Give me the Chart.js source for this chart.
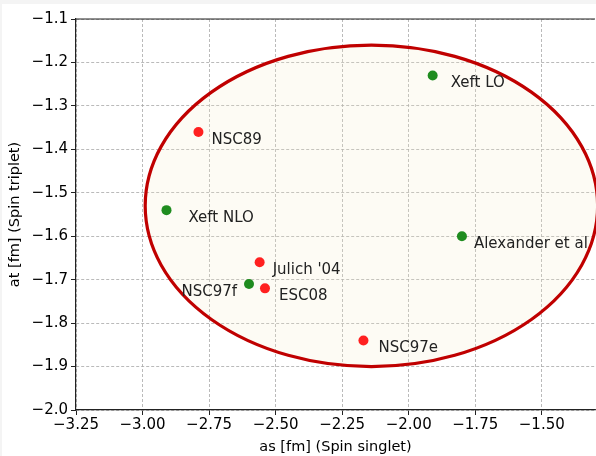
<!DOCTYPE html>
<html>
<head>
<meta charset="utf-8">
<script src="https://cdn.jsdelivr.net/npm/chart.js@4"></script>
<style>
    html, body { margin: 0; padding: 0; background: #f4f4f4; overflow: hidden; }
    #wrap { position: absolute; left: 2px; top: 4px; background: #fff; }
</style>
</head>
<body>
<div id="wrap"><canvas id="chart" width="598" height="452"></canvas></div>
<script>
// values
const names = ["Xeft LO", "NSC89", "Xeft NLO", "Julich '04", "NSC97f", "ESC08", "Alexander et al", "NSC97e"];
const asValues = [-1.91, -2.79, -2.91, -2.56, -2.60, -2.54, -1.80, -2.17];
const atValues = [-1.23, -1.36, -1.54, -1.66, -1.71, -1.72, -1.60, -1.84];
const kinds = ["eft", "model", "eft", "model", "eft", "model", "eft", "model"];

// ellipse: centre and half widths in data units
const ellipseCenter = [-2.14, -1.53];
const ellipseRadii = [0.85, 0.37];

const xTicks = [-3.25, -3.00, -2.75, -2.50, -2.25, -2.00, -1.75, -1.50];
const yTicks = [-2.0, -1.9, -1.8, -1.7, -1.6, -1.5, -1.4, -1.3, -1.2, -1.1];

// label placement (px from the dot)
const labelDx = [18, 13, 22, 13, -12, 14, 12, 15];

const kindColors = { eft: "#1f8c1f", model: "#ff2020" };

function pointsOf(kind) {
    const out = [];
    names.forEach((n, i) => {
        if (kinds[i] === kind) out.push({ x: asValues[i], y: atValues[i], name: n, dx: labelDx[i] });
    });
    return out;
}

const ellipsePlugin = {
    id: "ellipse",
    beforeDatasetsDraw(chart) {
        const { ctx, scales: { x, y } } = chart;
        const cx = x.getPixelForValue(ellipseCenter[0]);
        const cy = y.getPixelForValue(ellipseCenter[1]);
        const rx = Math.abs(x.getPixelForValue(ellipseCenter[0] + ellipseRadii[0]) - cx);
        const ry = Math.abs(y.getPixelForValue(ellipseCenter[1] + ellipseRadii[1]) - cy);
        ctx.save();
        ctx.beginPath();
        ctx.ellipse(cx, cy, rx, ry, 0, 0, Math.PI * 2);
        ctx.fillStyle = "rgba(245,235,200,0.2)";
        ctx.fill();
        ctx.lineWidth = 3.2;
        ctx.strokeStyle = "#c00000";
        ctx.stroke();
        ctx.restore();
    },
    afterDatasetsDraw(chart) {
        const { ctx, chartArea } = chart;
        ctx.save();
        ctx.font = "15px 'DejaVu Sans'";
        ctx.fillStyle = "#222";
        ctx.textBaseline = "middle";
        chart.data.datasets.forEach((ds, di) => {
            chart.getDatasetMeta(di).data.forEach((pt, i) => {
                const p = ds.data[i];
                ctx.textAlign = p.dx < 0 ? "right" : "left";
                ctx.fillText(p.name, pt.x + p.dx, pt.y + 8);
            });
        });
        // top spine
        ctx.strokeStyle = "#222";
        ctx.lineWidth = 1.2;
        ctx.beginPath();
        ctx.moveTo(chartArea.left, chartArea.top);
        ctx.lineTo(chartArea.right, chartArea.top);
        ctx.stroke();
        ctx.restore();
    }
};

Chart.defaults.font.family = "'DejaVu Sans'";
Chart.defaults.font.size = 15;
Chart.defaults.color = "#000";

new Chart(document.getElementById("chart"), {
    type: "scatter",
    data: {
        datasets: [
            { data: pointsOf("model"), backgroundColor: kindColors.model, pointRadius: 5, pointBorderWidth: 0, pointHoverRadius: 5 },
            { data: pointsOf("eft"), backgroundColor: kindColors.eft, pointRadius: 5, pointBorderWidth: 0, pointHoverRadius: 5 }
        ]
    },
    options: {
        responsive: false,
        animation: false,
        devicePixelRatio: 1,
        layout: { padding: { top: 15, right: 0, bottom: 0, left: 0 } },
        plugins: { legend: { display: false }, tooltip: { enabled: false } },
        scales: {
            x: {
                type: "linear",
                min: -3.25,
                max: -1.30,
                afterBuildTicks: s => { s.ticks = xTicks.map(v => ({ value: v })); },
                afterFit: s => { s.height = 46; },
                ticks: {
                    padding: 1,
                    color: "#000",
                    callback: v => (v < 0 ? "\u2212" : "") + Math.abs(v).toFixed(2)
                },
                grid: { color: "#a8a8a8", lineWidth: 0.8, tickLength: 5, tickColor: "#222", tickWidth: 1, tickBorderDash: [] },
                border: { display: true, color: "#222", width: 1.2, dash: [3, 2] },
                title: { display: true, text: "as [fm] (Spin singlet)", color: "#000", font: { size: 14.5 }, padding: { top: 0, bottom: 0 } }
            },
            y: {
                type: "linear",
                min: -2.0,
                max: -1.1,
                afterBuildTicks: s => { s.ticks = yTicks.map(v => ({ value: v })); },
                afterFit: s => { s.width = 74; },
                ticks: {
                    padding: 3,
                    color: "#000",
                    callback: v => (v < 0 ? "\u2212" : "") + Math.abs(v).toFixed(1)
                },
                grid: { color: "#a8a8a8", lineWidth: 0.8, tickLength: 5, tickColor: "#222", tickWidth: 1, tickBorderDash: [] },
                border: { display: true, color: "#222", width: 1.2, dash: [3, 2] },
                title: { display: true, text: "at [fm] (Spin triplet)", color: "#000", font: { size: 14.5 }, padding: { top: 5, bottom: 0 } }
            }
        }
    },
    plugins: [ellipsePlugin]
});
</script>
</body>
</html>
